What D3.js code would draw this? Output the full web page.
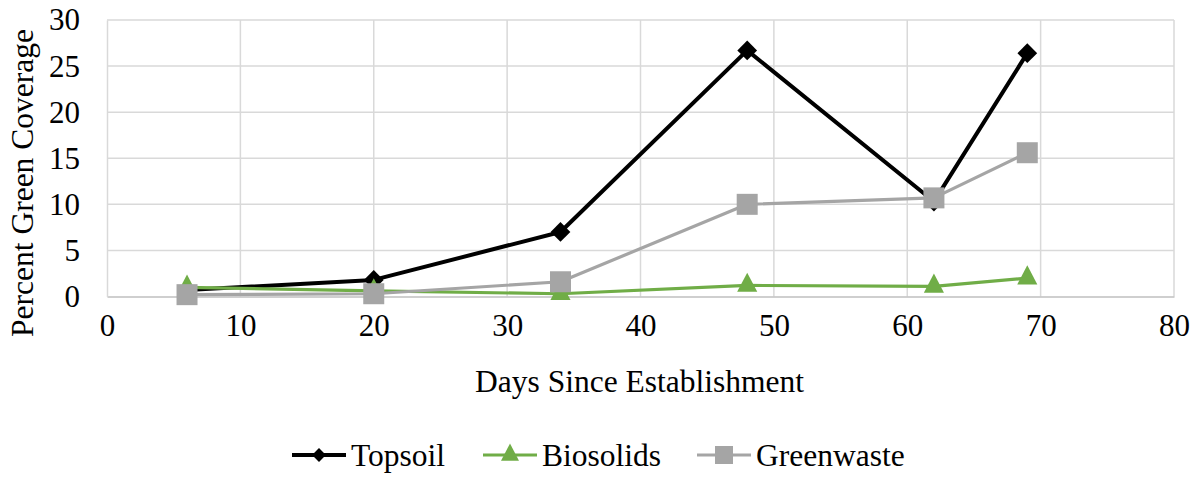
<!DOCTYPE html>
<html>
<head>
<meta charset="utf-8">
<script src="https://cdn.jsdelivr.net/npm/d3@7"></script>
<style>
  body { margin: 0; background: #fff; }
</style>
</head>
<body>
<div class="chart"></div>
<script>
var days = [6, 20, 34, 48, 62, 69];
var topsoil = [0.7, 1.8, 7.0, 26.7, 10.3, 26.4];
var biosolids = [1.0, 0.6, 0.3, 1.2, 1.1, 2.0];
var greenwaste = [0.2, 0.3, 1.6, 10.0, 10.7, 15.6];
var xTicks = [0, 10, 20, 30, 40, 50, 60, 70, 80];
var yTicks = [0, 5, 10, 15, 20, 25, 30];
var seriesNames = ['Topsoil', 'Biosolids', 'Greenwaste'];

var width = 1202, height = 478;
var plotLeft = 107, plotRight = 1174, plotTop = 20, plotBottom = 296.5;
var serif = '"Liberation Serif", "Times New Roman", Times, serif';

var svg = d3.select('.chart')
    .append('svg')
    .attr('width', width)
    .attr('height', height)
    .attr('font-family', serif);

var scaleX = d3.scaleLinear().domain([0, 80]).range([plotLeft, plotRight]);
var scaleY = d3.scaleLinear().domain([0, 30]).range([plotBottom, plotTop]);

// grid
svg.append('g').selectAll('line')
    .data(yTicks.filter(d => d > 0))
    .enter().append('line')
    .attr('x1', plotLeft).attr('x2', plotRight)
    .attr('y1', d => scaleY(d)).attr('y2', d => scaleY(d))
    .attr('stroke', '#d9d9d9').attr('stroke-width', 1.5);

svg.append('g').selectAll('line')
    .data(xTicks.filter(d => d > 0))
    .enter().append('line')
    .attr('x1', d => scaleX(d)).attr('x2', d => scaleX(d))
    .attr('y1', plotTop).attr('y2', plotBottom)
    .attr('stroke', '#d9d9d9').attr('stroke-width', 1.5);

// axes
var axisX = d3.axisBottom(scaleX).tickValues(xTicks).tickSize(0).tickPadding(17);
var axisY = d3.axisLeft(scaleY).tickValues(yTicks).tickSize(0).tickPadding(27);

var gx = svg.append('g')
    .attr('transform', 'translate(0,' + plotBottom + ')')
    .call(axisX)
    .attr('font-family', serif);
gx.select('.domain').attr('stroke', '#bfbfbf').attr('stroke-width', 1.5);
gx.selectAll('text')
    .style('font-family', serif)
    .style('font-size', '31px')
    .attr('fill', '#000');

var gy = svg.append('g')
    .attr('transform', 'translate(' + plotLeft + ',0)')
    .call(axisY)
    .attr('font-family', serif);
gy.select('.domain').attr('stroke', '#d9d9d9').attr('stroke-width', 1.5);
gy.selectAll('text')
    .style('font-family', serif)
    .style('font-size', '31px')
    .attr('fill', '#000');

svg.append('text')
    .attr('x', (plotLeft + plotRight) / 2 - 1)
    .attr('y', 392)
    .style('text-anchor', 'middle')
    .style('font-family', serif)
    .style('font-size', '31.5px')
    .text('Days Since Establishment');

svg.append('text')
    .attr('transform', 'translate(33,183) rotate(-90)')
    .style('text-anchor', 'middle')
    .style('font-family', serif)
    .style('font-size', '31.5px')
    .text('Percent Green Coverage');

// marker shapes: diamond is a square turned 45 degrees
var series = [
    { name: seriesNames[0], values: topsoil, color: '#000000', width: 4, symbol: d3.symbolSquare, size: 195, rotate: 45, legendSize: 95 },
    { name: seriesNames[1], values: biosolids, color: '#70ad47', width: 3.2, symbol: d3.symbolTriangle, size: 175, rotate: 0, legendSize: 140 },
    { name: seriesNames[2], values: greenwaste, color: '#a5a5a5', width: 3.2, symbol: d3.symbolSquare, size: 441, rotate: 0, legendSize: 324 }
];

var line = d3.line()
    .x((d, i) => scaleX(days[i]))
    .y(d => scaleY(d));

function markerTransform(s, x, y) {
    return 'translate(' + x + ',' + y + ') rotate(' + s.rotate + ')' +
        (s.symbol === d3.symbolTriangle ? ' scale(1,1.1)' : '');
}

series.forEach(function (s) {
    svg.append('path')
        .datum(s.values)
        .attr('d', line)
        .attr('fill', 'none')
        .attr('stroke', s.color)
        .attr('stroke-width', s.width)
        .attr('stroke-linejoin', 'round');

    svg.append('g').selectAll('path')
        .data(s.values)
        .enter().append('path')
        .attr('d', d3.symbol().type(s.symbol).size(s.size))
        .attr('transform', (d, i) => markerTransform(s, scaleX(days[i]), scaleY(d)))
        .attr('fill', s.color);
});

// legend
var legendX = [292, 483, 697];
var legendY = 455;
series.forEach(function (s, i) {
    var g = svg.append('g').attr('transform', 'translate(' + legendX[i] + ',' + legendY + ')');
    g.append('line')
        .attr('x1', 0).attr('x2', 54)
        .attr('y1', 0).attr('y2', 0)
        .attr('stroke', s.color).attr('stroke-width', s.width);
    g.append('path')
        .attr('d', d3.symbol().type(s.symbol).size(s.legendSize))
        .attr('transform', markerTransform(s, 27, 0))
        .attr('fill', s.color);
    g.append('text')
        .attr('x', 59)
        .attr('y', 11)
        .style('font-family', serif)
        .style('font-size', '31.5px')
        .text(s.name);
});
</script>
</body>
</html>
